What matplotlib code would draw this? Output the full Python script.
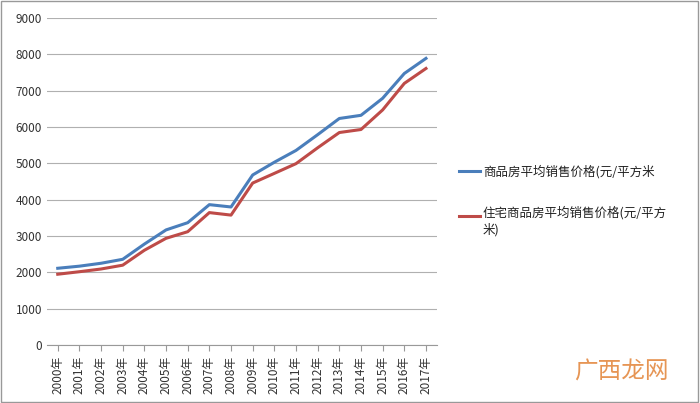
import matplotlib.pyplot as plt
from matplotlib.patches import Rectangle

plt.rcParams['font.family'] = ['Noto Sans CJK SC', 'DejaVu Sans']

years = [f"{y}年" for y in range(2000, 2018)]
commercial = [2112, 2170, 2250, 2359, 2778, 3168, 3367, 3864, 3800, 4681,
              5032, 5357, 5791, 6237, 6324, 6793, 7476, 7892]
residential = [1948, 2017, 2092, 2197, 2608, 2937, 3119, 3645, 3576, 4459,
               4725, 4993, 5430, 5850, 5933, 6473, 7203, 7614]

fig = plt.figure(figsize=(7, 4.03), dpi=100)
ax = fig.add_axes([0.067, 0.144, 0.557, 0.811])

x = range(len(years))
ax.plot(x, commercial, color='#4a7ebb', lw=2.2)
ax.plot(x, residential, color='#be4b48', lw=2.2)

ax.set_xlim(-0.5, len(years) - 0.5)
ax.set_ylim(0, 9000)
ax.set_yticks(range(0, 9001, 1000))
ax.set_xticks(list(x))
ax.set_xticklabels(years, rotation=90, fontsize=8.5, color='#333333')
ax.tick_params(axis='y', labelsize=8.5, colors='#333333', length=0)
ax.tick_params(axis='x', length=4, color='#999999')
ax.grid(axis='y', color='#b0b0b0', lw=0.8)
ax.set_axisbelow(True)
for s in ['top', 'right', 'left']:
    ax.spines[s].set_visible(False)
ax.spines['bottom'].set_color('#999999')

# legend drawn as text + line samples
fig.add_artist(plt.Line2D([0.655, 0.685], [0.575, 0.575], color='#4a7ebb', lw=2.2))
fig.text(0.69, 0.575, '商品房平均销售价格(元/平方米', fontsize=9, va='center', color='#222222')
fig.add_artist(plt.Line2D([0.655, 0.685], [0.465, 0.465], color='#be4b48', lw=2.2))
fig.text(0.69, 0.465, '住宅商品房平均销售价格(元/平方\n米)', fontsize=9, va='top',
         color='#222222', linespacing=1.4, transform=fig.transFigure)
fig.texts[-1].set_y(0.49)

fig.text(0.82, 0.06, '广西龙网', fontsize=17, color='#e07b2a', alpha=0.8)

fig.add_artist(Rectangle((0.002, 0.003), 0.995, 0.994, transform=fig.transFigure,
                         fill=False, edgecolor='#999999', lw=1))

fig.savefig('out.png')
